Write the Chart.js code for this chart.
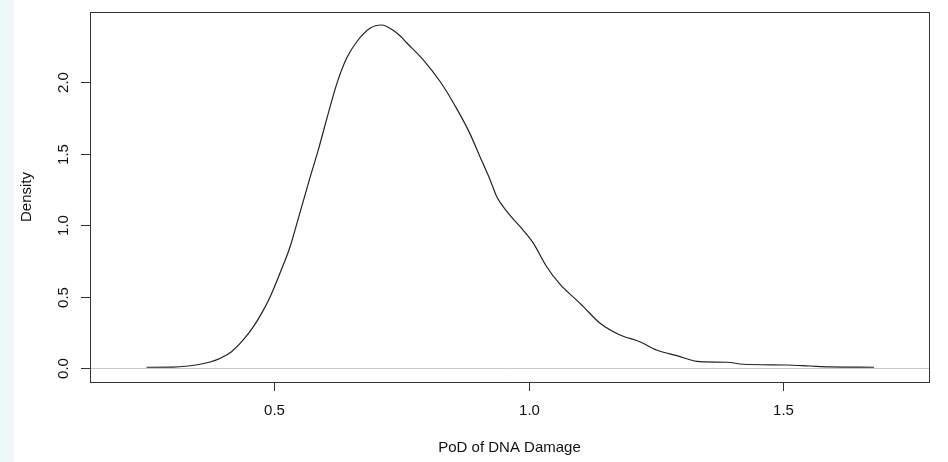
<!DOCTYPE html>
<html>
<head>
<meta charset="utf-8">
<script src="https://cdn.jsdelivr.net/npm/chart.js@4"></script>
<style>
  body { margin: 0; background: linear-gradient(to right, #eef8f8 14px, #ffffff 14px); }
  #wrap { width: 948px; height: 462px; position: relative; }
</style>
</head>
<body>
<div id="wrap"><canvas id="canvas"></canvas></div>
<script>
// density estimate
const podX = [0.249, 0.300, 0.331, 0.354, 0.374, 0.394, 0.416, 0.439, 0.459, 0.475,
  0.492, 0.511, 0.531, 0.550, 0.570, 0.586, 0.606, 0.623, 0.642, 0.662,
  0.688, 0.711, 0.734, 0.748, 0.760, 0.793, 0.826, 0.858, 0.884, 0.904, 0.924,
  0.937, 0.957, 0.983, 1.009, 1.035, 1.061, 1.097, 1.107, 1.140, 1.179,
  1.218, 1.251, 1.291, 1.336, 1.389, 1.421, 1.507, 1.552, 1.592, 1.678];
const densityY = [0.005, 0.006, 0.014, 0.026, 0.042, 0.068, 0.114, 0.196, 0.289, 0.382,
  0.499, 0.662, 0.848, 1.082, 1.330, 1.520, 1.781, 1.991, 2.166, 2.282,
  2.376, 2.399, 2.360, 2.320, 2.275, 2.154, 2.002, 1.816, 1.641, 1.478, 1.315,
  1.198, 1.093, 0.988, 0.872, 0.708, 0.586, 0.464, 0.429, 0.313, 0.231,
  0.184, 0.126, 0.086, 0.044, 0.040, 0.026, 0.021, 0.014, 0.008, 0.005];
const xTicks = [0.5, 1.0, 1.5];
const yTicks = [0.0, 0.5, 1.0, 1.5, 2.0];
const xTitle = 'PoD of DNA Damage';
const yTitle = 'Density';

const points = podX.map((x, i) => ({x: x, y: densityY[i]}));

const font = '15px "Liberation Sans", Arial, sans-serif';

// R style box, ticks and labels
const rAxes = {
    id: 'rAxes',
    beforeDatasetsDraw(chart){
        const {ctx, chartArea: a, scales: {x, y}} = chart;
        const y0 = y.getPixelForValue(0);
        ctx.save();
        ctx.strokeStyle = '#c8c8c8';
        ctx.lineWidth = 1;
        ctx.beginPath();
        ctx.moveTo(a.left, Math.round(y0) + 0.5);
        ctx.lineTo(a.right, Math.round(y0) + 0.5);
        ctx.stroke();
        ctx.restore();
    },
    afterDraw(chart){
        const {ctx, chartArea: a, scales: {x, y}} = chart;
        ctx.save();
        ctx.strokeStyle = '#333';
        ctx.lineWidth = 1;
        ctx.strokeRect(Math.round(a.left) + 0.5, Math.round(a.top) + 0.5,
            Math.round(a.right - a.left), Math.round(a.bottom - a.top));

        ctx.fillStyle = '#111';
        ctx.font = font;
        ctx.textAlign = 'center';
        ctx.textBaseline = 'middle';
        xTicks.forEach(v => {
            const px = Math.round(x.getPixelForValue(v)) + 0.5;
            ctx.beginPath();
            ctx.moveTo(px, a.bottom);
            ctx.lineTo(px, a.bottom + 9);
            ctx.stroke();
            ctx.fillText(v.toFixed(1), px, a.bottom + 29);
        });
        yTicks.forEach(v => {
            const py = Math.round(y.getPixelForValue(v)) + 0.5;
            ctx.beginPath();
            ctx.moveTo(a.left, py);
            ctx.lineTo(a.left - 9, py);
            ctx.stroke();
            ctx.save();
            ctx.translate(a.left - 26, py);
            ctx.rotate(-Math.PI / 2);
            ctx.fillText(v.toFixed(1), 0, 0);
            ctx.restore();
        });
        ctx.fillText(xTitle, (a.left + a.right) / 2, a.bottom + 66);
        ctx.save();
        ctx.translate(27, (a.top + a.bottom) / 2);
        ctx.rotate(-Math.PI / 2);
        ctx.fillText(yTitle, 0, 0);
        ctx.restore();
        ctx.restore();
    }
};

const ctx = document.getElementById('canvas').getContext('2d');

const myChart = new Chart(ctx, {
    type: 'line',
    data: {
        datasets: [{
            data: points,
            borderColor: '#222',
            borderWidth: 1.2,
            backgroundColor: 'transparent',
            pointRadius: 0,
            cubicInterpolationMode: 'monotone',
            fill: false
        }]
    },
    options: {
        responsive: true,
        maintainAspectRatio: false,
        animation: false,
        layout: { padding: { left: 90, top: 12, right: 19, bottom: 80 } },
        plugins: { legend: { display: false }, tooltip: { enabled: false } },
        scales: {
            x: { type: 'linear', min: 0.138, max: 1.786, display: false },
            y: { type: 'linear', min: -0.098, max: 2.49, display: false }
        }
    },
    plugins: [rAxes]
});
</script>
</body>
</html>
